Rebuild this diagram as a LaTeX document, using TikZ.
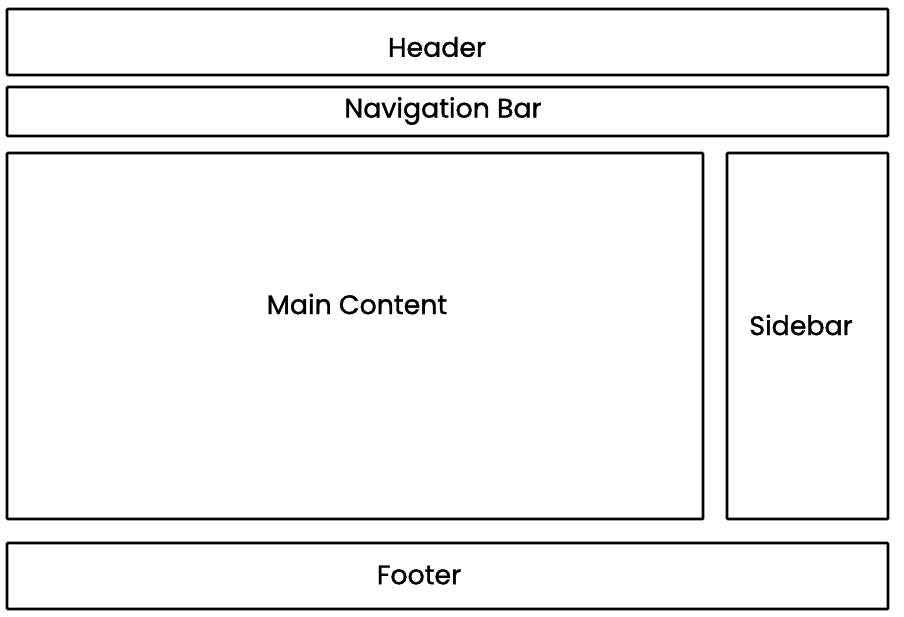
\documentclass[tikz,border=0pt]{standalone}
\usepackage{fontspec}
\setmainfont{Poppins}[BoldFont=Poppins,BoldFeatures={FakeBold=1.2}]
\begin{document}
\begin{tikzpicture}[x=1pt,y=-1pt,
  panel/.style={draw=black,line width=2.8pt,rounded corners=1pt,fill=white},
  lbl/.style={font=\fontsize{26.8}{30}\selectfont\bfseries,text=black,inner sep=0pt}]
\useasboundingbox[fill=white] (0,0) rectangle (904,616);
\draw[panel] (7,9) rectangle (888,75);
\draw[panel] (7,87) rectangle (888,136);
\draw[panel] (7,153) rectangle (703,519);
\draw[panel] (727,153) rectangle (888,519);
\draw[panel] (7,543) rectangle (888,609);
\node[lbl] (header) at (437,47) {Header};
\node[lbl] (nav) at (443,111) {Navigation Bar};
\node[lbl] (main) at (357,304) {Main Content};
\node[lbl] (side) at (801,325) {Sidebar};
\node[lbl] (foot) at (419,575) {Footer};
\end{tikzpicture}
\end{document}
